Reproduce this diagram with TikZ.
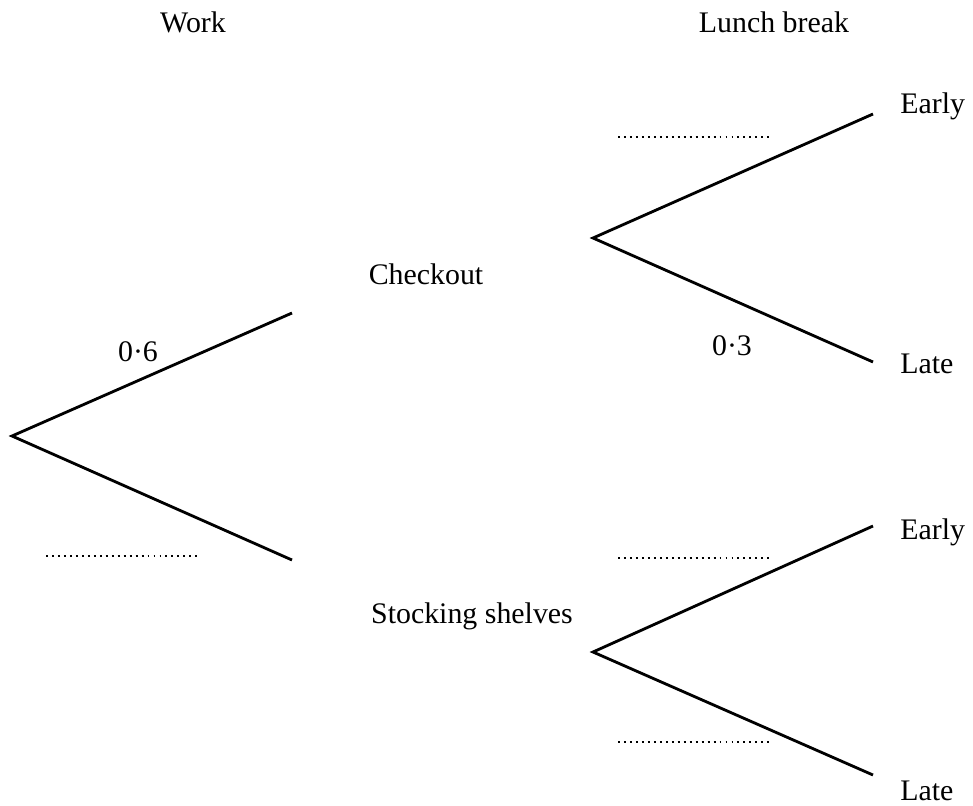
\documentclass[tikz,border=0pt]{standalone}
\usepackage{fontspec}
\setmainfont{Liberation Serif}

\begin{document}
\begin{tikzpicture}[x=0.02cm, y=-0.02cm,
	branch/.style={line width=1.6pt},
	blank/.style={line width=1.1pt, dash pattern=on 1.1pt off 2.3pt},
	txt/.style={anchor=base, inner sep=0pt, font=\fontsize{17}{20}\selectfont}]
	\useasboundingbox (0,0) rectangle (973,805);
	% Headings
	\node[txt] (work) at (193,32) {Work};
	\node[txt] (lunch) at (774,32) {Lunch break};
	% Branch points
	\coordinate (root) at (12,436);
	\coordinate (chkend) at (292,313);
	\coordinate (stkend) at (292,560);
	\coordinate (chk) at (593,238);
	\coordinate (stk) at (593,652);
	\coordinate (chkE) at (873,114);
	\coordinate (chkL) at (873,362);
	\coordinate (stkE) at (873,526);
	\coordinate (stkL) at (873,775);
	% Branches
	\draw[branch] (chkend) -- (root) -- (stkend);
	\draw[branch] (chkE) -- (chk) -- (chkL);
	\draw[branch] (stkE) -- (stk) -- (stkL);
	% Outcomes
	\node[txt] (checkout) at (426,284) {Checkout};
	\node[txt] (stocking) at (472,623) {Stocking shelves};
	\foreach \nm/\y/\lbl in {e1/113/Early, l1/373/Late, e2/539/Early, l2/800/Late}{
		\node[txt, anchor=base west] (\nm) at (900,\y) {\lbl};
	}
	% Probabilities
	\node[txt] (pchk) at (138,361) {0·6};
	\node[txt] (plate) at (732,355) {0·3};
	% Blanks to fill in
	\foreach \nm/\xa/\y in {b1/46/556, b2/618/137, b3/618/558, b4/618/742}{
		\coordinate (\nm a) at (\xa,\y);
		\coordinate (\nm b) at (\xa+152,\y);
		\draw[blank] (\nm a) -- (\nm b);
	}
\end{tikzpicture}
\end{document}
